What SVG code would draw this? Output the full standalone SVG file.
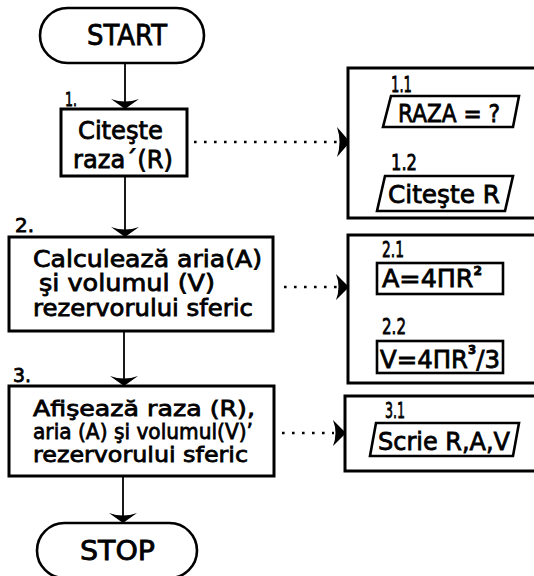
<svg xmlns="http://www.w3.org/2000/svg" width="534" height="576" viewBox="0 0 534 576">
<style>
  .box{fill:#fff;stroke:#000;stroke-width:3}
  .inner{fill:#fff;stroke:#000;stroke-width:2.6}
  .line{fill:none;stroke:#000;stroke-width:1.8}
  .dot{fill:none;stroke:#000;stroke-width:2.6;stroke-dasharray:2.6 7.4}
  .head{fill:#000;stroke:none}
  text{font-family:"DejaVu Sans","Liberation Sans",sans-serif;fill:#000;stroke:#000;stroke-width:0.8}
  .t{font-size:25px}
  .m{font-size:23px}
  .n{font-size:22px}
  .lab{font-size:22px}
  .sm{font-size:19px}
  .sup{font-size:12px;font-weight:bold}
</style>
<rect width="534" height="576" fill="#fff"/>
<g id="connectors">
  <line class="line" x1="125" y1="63" x2="125" y2="104"/>
  <path class="head" d="M111,99 Q125,104 139,99 L125,109 Z"/>
  <line class="line" x1="125" y1="176" x2="125" y2="232"/>
  <path class="head" d="M111,227 Q125,232 139,227 L125,237 Z"/>
  <line class="line" x1="124" y1="331" x2="124" y2="381"/>
  <path class="head" d="M110,376 Q124,381 138,376 L124,386 Z"/>
  <line class="line" x1="123" y1="476" x2="123" y2="518"/>
  <path class="head" d="M109,513 Q123,518 137,513 L123,523 Z"/>
  <line class="dot" x1="194" y1="142" x2="338" y2="142"/>
  <path class="head" d="M337,127 Q342,142 337,157 L350,142 Z"/>
  <line class="dot" x1="284" y1="287" x2="337" y2="287"/>
  <path class="head" d="M336,274 Q341,287 336,300 L349,287 Z"/>
  <line class="dot" x1="282" y1="433" x2="334" y2="433"/>
  <path class="head" d="M333,420 Q338,433 333,446 L346,433 Z"/>
  <line class="line" x1="443" y1="127" x2="443" y2="171"/>
  <path class="head" d="M431,167 Q443,171 455,167 L443,176 Z"/>
  <line class="line" x1="441" y1="294" x2="441" y2="336"/>
  <path class="head" d="M429,332 Q441,336 453,332 L441,341 Z"/>
</g>
<g id="start">
  <rect class="box" x="40" y="8" width="164" height="55" rx="27.5" style="stroke-width:2.6"/>
  <text x="87" y="45" font-size="28" textLength="80" lengthAdjust="spacingAndGlyphs">START</text>
</g>
<g id="step1">
  <text class="sm" x="65" y="106" textLength="12" lengthAdjust="spacingAndGlyphs">1.</text>
  <rect class="box" x="61" y="109" width="126" height="67"/>
  <text class="t" x="78" y="139" textLength="85" lengthAdjust="spacingAndGlyphs">Citeşte</text>
  <text class="t" x="73" y="168" textLength="100" lengthAdjust="spacingAndGlyphs">raza´(R)</text>
</g>
<g id="step2">
  <text class="sm" x="15" y="232" textLength="19" lengthAdjust="spacingAndGlyphs">2.</text>
  <rect class="box" x="9" y="237" width="264" height="94"/>
  <text class="m" x="33" y="267" textLength="229" lengthAdjust="spacingAndGlyphs">Calculează aria(A)</text>
  <text class="m" x="39" y="291" textLength="176" lengthAdjust="spacingAndGlyphs">şi volumul (V)</text>
  <text class="m" x="33" y="316" textLength="220" lengthAdjust="spacingAndGlyphs">rezervorului sferic</text>
</g>
<g id="step3">
  <text class="sm" x="13" y="382" textLength="18" lengthAdjust="spacingAndGlyphs">3.</text>
  <rect class="box" x="9" y="386" width="265" height="90"/>
  <text class="n" x="33" y="416" textLength="222" lengthAdjust="spacingAndGlyphs">Afişează  raza (R),</text>
  <text class="n" x="33" y="439" textLength="220" lengthAdjust="spacingAndGlyphs">aria (A) şi volumul(V)’</text>
  <text class="n" x="33" y="462" textLength="215" lengthAdjust="spacingAndGlyphs">rezervorului sferic</text>
</g>
<g id="stop">
  <rect class="box" x="37" y="523" width="160" height="55" rx="27.5" style="stroke-width:2.6"/>
  <text x="80" y="560" font-size="26" textLength="75" lengthAdjust="spacingAndGlyphs">STOP</text>
</g>
<g id="detail1">
  <rect class="box" x="348" y="68" width="200" height="150"/>
  <text class="lab" x="391" y="92" textLength="21" lengthAdjust="spacingAndGlyphs">1.1</text>
  <polygon class="inner" points="391,96 519,96 513,127 383,127"/>
  <text class="t" x="398" y="122" textLength="102" lengthAdjust="spacingAndGlyphs">RAZA = ?</text>
  <text class="lab" x="391" y="170" textLength="26" lengthAdjust="spacingAndGlyphs">1.2</text>
  <polygon class="inner" points="385,176 513,176 505,211 377,211"/>
  <text class="t" x="388" y="203" textLength="112" lengthAdjust="spacingAndGlyphs">Citeşte R</text>
</g>
<g id="detail2">
  <rect class="box" x="348" y="235" width="200" height="148"/>
  <text class="lab" x="382" y="257" textLength="22" lengthAdjust="spacingAndGlyphs">2.1</text>
  <rect class="inner" x="377" y="263" width="126" height="31"/>
  <text class="t" x="382" y="287" textLength="100" lengthAdjust="spacingAndGlyphs">A=4ΠR<tspan class="sup" dy="-12">2</tspan></text>
  <text class="lab" x="382" y="334" textLength="24" lengthAdjust="spacingAndGlyphs">2.2</text>
  <rect class="inner" x="377" y="341" width="126" height="32"/>
  <text class="t" x="380" y="368" textLength="120" lengthAdjust="spacingAndGlyphs">V=4ΠR<tspan class="sup" dy="-14">3</tspan><tspan dy="14">/3</tspan></text>
</g>
<g id="detail3">
  <rect class="box" x="345" y="396" width="200" height="75"/>
  <text class="lab" x="385" y="418" textLength="20" lengthAdjust="spacingAndGlyphs">3.1</text>
  <polygon class="inner" points="376,423 519,423 513,456 370,456"/>
  <text class="t" x="378" y="450" textLength="132" lengthAdjust="spacingAndGlyphs">Scrie R,A,V</text>
</g>
</svg>
